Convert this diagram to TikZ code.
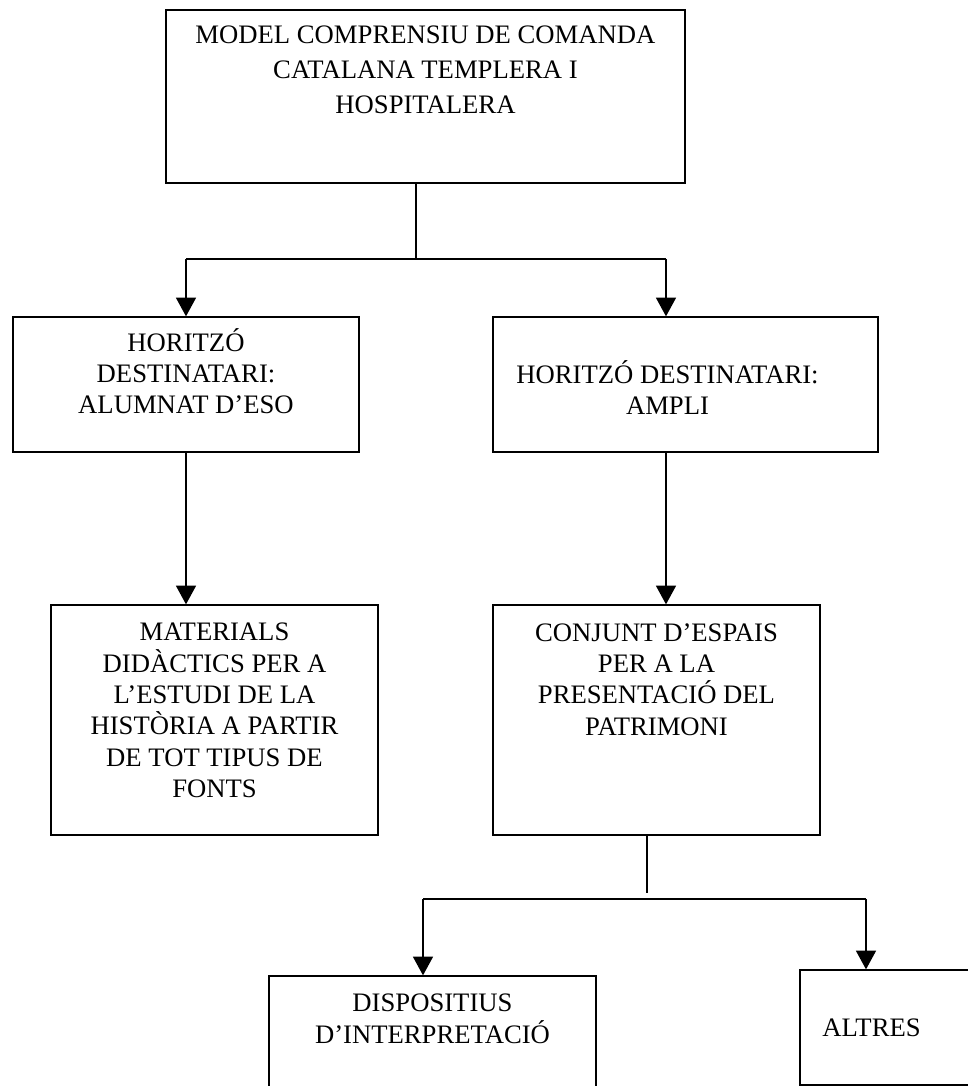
\documentclass[tikz,border=0pt]{standalone}
\usepackage{fontspec}
\setmainfont{Liberation Serif}
\usetikzlibrary{arrows.meta,fit}

\begin{document}
\begin{tikzpicture}[x=0.75pt,y=-0.75pt,
  caixa/.style={draw,line width=1pt,inner sep=0pt},
  etiqueta/.style={anchor=north,inner sep=0pt,align=center,font=\fontsize{20}{23.5}\selectfont},
  linia/.style={draw,line width=1pt},
  fletxa/.style={draw,line width=1pt,-{Triangle[width=15pt,length=14pt]}}]
\useasboundingbox (0,0) rectangle (968,1086);
\fill[white] (0,0) rectangle (968,1086);
\clip (0,0) rectangle (968,1086);

% nivell 1
\node[caixa,fit={(166,10) (685,183)}] (model) {};
\node[etiqueta,font=\fontsize{20}{26.25}\selectfont] (modeltxt) at (425.5,26)
  {MODEL COMPRENSIU DE COMANDA\\CATALANA TEMPLERA I\\HOSPITALERA};

% nivell 2
\node[caixa,fit={(13,317) (359,452)}] (eso) {};
\node[etiqueta] (esotxt) at (186,328) {HORITZÓ\\DESTINATARI:\\ALUMNAT D’ESO};
\node[caixa,fit={(493,317) (878,452)}] (ampli) {};
\node[etiqueta] (amplitxt) at (667.5,360) {HORITZÓ DESTINATARI:\\AMPLI};

% nivell 3
\node[caixa,fit={(51,605) (378,835)}] (materials) {};
\node[etiqueta] (materialstxt) at (214.5,623)
  {MATERIALS\\DIDÀCTICS PER A\\L’ESTUDI DE LA\\HISTÒRIA A PARTIR\\DE TOT TIPUS DE\\FONTS};
\node[caixa,fit={(493,605) (820,835)}] (conjunt) {};
\node[etiqueta] (conjunttxt) at (656.5,623)
  {CONJUNT D’ESPAIS\\PER A LA\\PRESENTACIÓ DEL\\PATRIMONI};

% nivell 4
\node[caixa,fit={(269,976) (596,1100)}] (disp) {};
\node[etiqueta] (disptxt) at (432.5,994) {DISPOSITIUS\\D’INTERPRETACIÓ};
\node[caixa,fit={(800,970) (975,1085)}] (altres) {};
\node[etiqueta] (altrestxt) at (871.5,1019) {ALTRES};

% connexions
\coordinate (tronc1) at (416,259);
\coordinate (bra1e) at (186,259);
\coordinate (bra1d) at (666,259);
\path[linia] (model.south -| tronc1) -- (tronc1);
\path[linia] (bra1e) -- (bra1d);
\path[fletxa] (bra1e) -- (bra1e |- eso.north);
\path[fletxa] (bra1d) -- (bra1d |- ampli.north);
\path[fletxa] (eso.south -| bra1e) -- (materials.north -| bra1e);
\path[fletxa] (ampli.south -| bra1d) -- (conjunt.north -| bra1d);

\coordinate (tronc2) at (647,893);
\coordinate (bra2e) at (423,899);
\coordinate (bra2d) at (866,899);
\path[linia] (conjunt.south -| tronc2) -- (tronc2);
\path[linia] (bra2e) -- (bra2d);
\path[fletxa] (bra2e) -- (bra2e |- disp.north);
\path[fletxa] (bra2d) -- (bra2d |- altres.north);
\end{tikzpicture}
\end{document}
